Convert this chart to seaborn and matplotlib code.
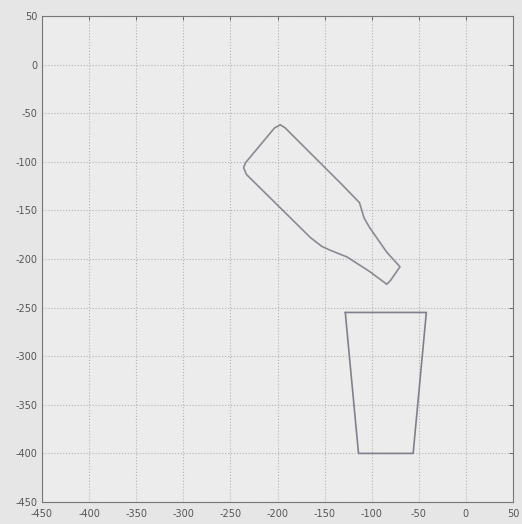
import matplotlib
matplotlib.use("Agg")
import matplotlib.pyplot as plt
import seaborn as sns
import numpy as np

# Bottle outline (closed)
bottle_x = [-197, -192, -131, -113, -108, -102, -84, -70, -80, -84, -102, -126, -144, -153, -157, -165, -233, -236, -234, -203, -197]
bottle_y = [-62, -65, -124, -142, -158, -168, -193, -208, -222, -226, -213, -198, -191, -187, -184, -178, -113, -106, -101, -65, -62]

# Cup outline (closed)
cup_x = [-128, -42, -56, -114, -127, -128]
cup_y = [-255, -255, -400, -400, -266, -255]

ticks = [-450, -400, -350, -300, -250, -200, -150, -100, -50, 0, 50]

sns.set_style("white")
plt.rcParams['font.family'] = ['DejaVu Sans']

fig = plt.figure(figsize=(5.22, 5.24), dpi=100, facecolor="#e6e6e6")
ax = fig.add_axes([42/522, 1-502/524, 471/522, 486/524])
ax.set_facecolor("#ececec")

sns.lineplot(x=bottle_x, y=bottle_y, sort=False, estimator=None, ax=ax,
             color="#8a8a90", linewidth=1.2)
sns.lineplot(x=cup_x, y=cup_y, sort=False, estimator=None, ax=ax,
             color="#80808c", linewidth=1.2)

ax.set_xlim(-450, 50)
ax.set_ylim(-450, 50)
ax.set_xticks(ticks)
ax.set_yticks(ticks)
ax.set_xticklabels([str(t) for t in ticks])
ax.set_yticklabels([str(t) for t in ticks])
ax.grid(True, linestyle=":", color="#b4b4b4", linewidth=0.8)
ax.tick_params(direction="in", length=3, width=0.6, labelsize=7,
               colors="#555555", top=True, right=True)
ax.tick_params(axis="x", pad=5)
ax.tick_params(axis="y", pad=3)
for s in ax.spines.values():
    s.set_color("#777777")
    s.set_linewidth(0.8)

fig.savefig("out.png", dpi=100, facecolor=fig.get_facecolor())
